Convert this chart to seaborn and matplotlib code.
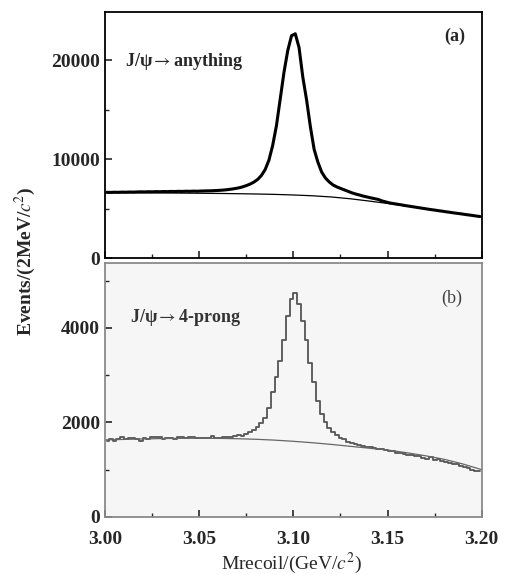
import numpy as np
import pandas as pd
import matplotlib
matplotlib.use('Agg')
import matplotlib.pyplot as plt
from matplotlib.ticker import MultipleLocator
import seaborn as sns

# bin centres, 2 MeV bins from 3.00 to 3.20 GeV
mass = np.round(np.arange(3.001, 3.2, 0.002), 3)

# (a) J/psi -> anything, histogram counts per bin
counts_a = [6650, 6640, 6660, 6650, 6670, 6660, 6680, 6670, 6690, 6700,
            6690, 6710, 6700, 6720, 6710, 6730, 6720, 6740, 6730, 6750,
            6740, 6760, 6750, 6770, 6760, 6780, 6790, 6800, 6810, 6830,
            6850, 6880, 6920, 6970, 7030, 7100, 7200, 7330, 7480, 7680,
            7950, 8350, 8950, 9900, 11400, 13400, 16100, 18800, 21000, 22500,
            22700, 21300, 18300, 16000, 13300, 11000, 9700, 8700, 8100, 7700,
            7400, 7200, 7050, 6900, 6750, 6600, 6480, 6380, 6270, 6180,
            6090, 6010, 5930, 5780, 5680, 5580, 5510, 5450, 5390, 5320,
            5260, 5200, 5140, 5080, 5020, 4960, 4900, 4850, 4790, 4740,
            4680, 4630, 4570, 4520, 4470, 4410, 4360, 4310, 4250, 4200]

# (b) J/psi -> 4-prong, histogram counts per bin
counts_b = [1610, 1640, 1600, 1650, 1690, 1640, 1660, 1680, 1640, 1600,
            1660, 1650, 1700, 1700, 1690, 1650, 1660, 1680, 1650, 1700,
            1690, 1680, 1700, 1690, 1670, 1660, 1680, 1670, 1720, 1680,
            1660, 1690, 1700, 1690, 1710, 1730, 1720, 1760, 1800, 1830,
            1900, 1980, 2100, 2300, 2650, 2950, 3300, 3750, 4250, 4600,
            4730, 4500, 4150, 3750, 3250, 2850, 2450, 2180, 2000, 1880,
            1800, 1740, 1680, 1640, 1590, 1560, 1540, 1530, 1510, 1480,
            1470, 1460, 1430, 1440, 1410, 1400, 1390, 1350, 1360, 1340,
            1320, 1310, 1280, 1290, 1250, 1230, 1260, 1200, 1220, 1180,
            1160, 1140, 1120, 1110, 1080, 1060, 1040, 990, 980, 970]

# fitted background curves
bg_mass = [3.00, 3.01, 3.02, 3.03, 3.04, 3.05, 3.06, 3.07, 3.08, 3.09, 3.10,
           3.11, 3.12, 3.13, 3.14, 3.15, 3.16, 3.17, 3.18, 3.19, 3.20]
bg_a = [6600, 6600, 6595, 6585, 6570, 6555, 6535, 6510, 6480, 6440, 6380,
        6300, 6180, 6000, 5770, 5520, 5260, 5000, 4720, 4460, 4190]
bg_b = [1630, 1640, 1650, 1658, 1663, 1665, 1662, 1655, 1643, 1625, 1600,
        1570, 1535, 1495, 1455, 1415, 1360, 1295, 1220, 1120, 1000]

hist_a = pd.DataFrame({'m': mass, 'n': counts_a})
hist_b = pd.DataFrame({'m': mass, 'n': counts_b})
fit_a = pd.DataFrame({'m': bg_mass, 'n': bg_a})
fit_b = pd.DataFrame({'m': bg_mass, 'n': bg_b})

sns.set_style('ticks')
plt.rcParams['font.family'] = ['Liberation Serif', 'DejaVu Serif']
plt.rcParams['mathtext.fontset'] = 'stix'

fig = plt.figure(figsize=(5.05, 5.75), dpi=100)
ax1 = fig.add_axes([0.208, 0.5513, 0.746, 0.4278])
ax2 = fig.add_axes([0.208, 0.1009, 0.746, 0.4417])

# panel (a)
sns.lineplot(data=hist_a, x='m', y='n', ax=ax1, color='black', lw=2.2)
sns.lineplot(data=fit_a, x='m', y='n', ax=ax1, color='black', lw=0.9)
ax1.set_ylim(0, 24900)
ax1.yaxis.set_major_locator(MultipleLocator(10000))
ax1.yaxis.set_minor_locator(MultipleLocator(5000))
ax1.text(0.053, 0.797, r'J/ψ$\rightarrow$anything', transform=ax1.transAxes,
         fontsize=13, fontweight='bold', va='center', ha='left')
ax1.text(0.928, 0.902, '(a)', transform=ax1.transAxes,
         fontsize=13, fontweight='bold', va='center', ha='center')

# panel (b)
ax2.set_facecolor('#f6f6f6')
sns.lineplot(data=hist_b, x='m', y='n', ax=ax2, color='#555555', lw=1.3,
             drawstyle='steps-mid')
sns.lineplot(data=fit_b, x='m', y='n', ax=ax2, color='#666666', lw=0.9)
ax2.set_ylim(0, 5370)
ax2.yaxis.set_major_locator(MultipleLocator(2000))
ax2.yaxis.set_minor_locator(MultipleLocator(1000))
ax2.text(0.066, 0.787, r'J/ψ$\rightarrow$4-prong', transform=ax2.transAxes,
         fontsize=13, fontweight='bold', va='center', ha='left', color='#333333')
ax2.text(0.920, 0.862, '(b)', transform=ax2.transAxes,
         fontsize=13, va='center', ha='center', color='#444444')
for sp in ax2.spines.values():
    sp.set_color('#8a8a8a')
    sp.set_linewidth(1.3)
for sp in ax1.spines.values():
    sp.set_color('black')
    sp.set_linewidth(1.3)

for ax in (ax1, ax2):
    ax.set_xlim(3.0, 3.2)
    ax.xaxis.set_major_locator(MultipleLocator(0.05))
    ax.xaxis.set_minor_locator(MultipleLocator(0.025))
    ax.tick_params(which='both', direction='in', top=False, right=False)
    ax.tick_params(which='major', length=5, width=1.2)
    ax.tick_params(which='minor', length=3, width=1.0)
    ax.set_xlabel('')
    ax.set_ylabel('')
    for lab in ax.get_yticklabels():
        lab.set_fontsize(14)
        lab.set_fontweight('bold')

ax1.tick_params(labelbottom=False)
ax2.set_xticks([3.00, 3.05, 3.10, 3.15, 3.20])
ax2.set_xticklabels(['3.00', '3.05', '3.10', '3.15', '3.20'],
                    fontsize=14, fontweight='bold')
ax2.tick_params(axis='x', pad=10)

fig.text(0.05, 0.546, r'Events/(2MeV/$\mathbf{\mathit{c}}^2$)', rotation=90,
         fontsize=14, fontweight='bold', ha='center', va='center')
fig.text(0.578, 0.021, r'Mrecoil/(GeV/$\mathit{c}^2$)', fontsize=14,
         ha='center', va='center')

fig.savefig('out.png', dpi=100)
